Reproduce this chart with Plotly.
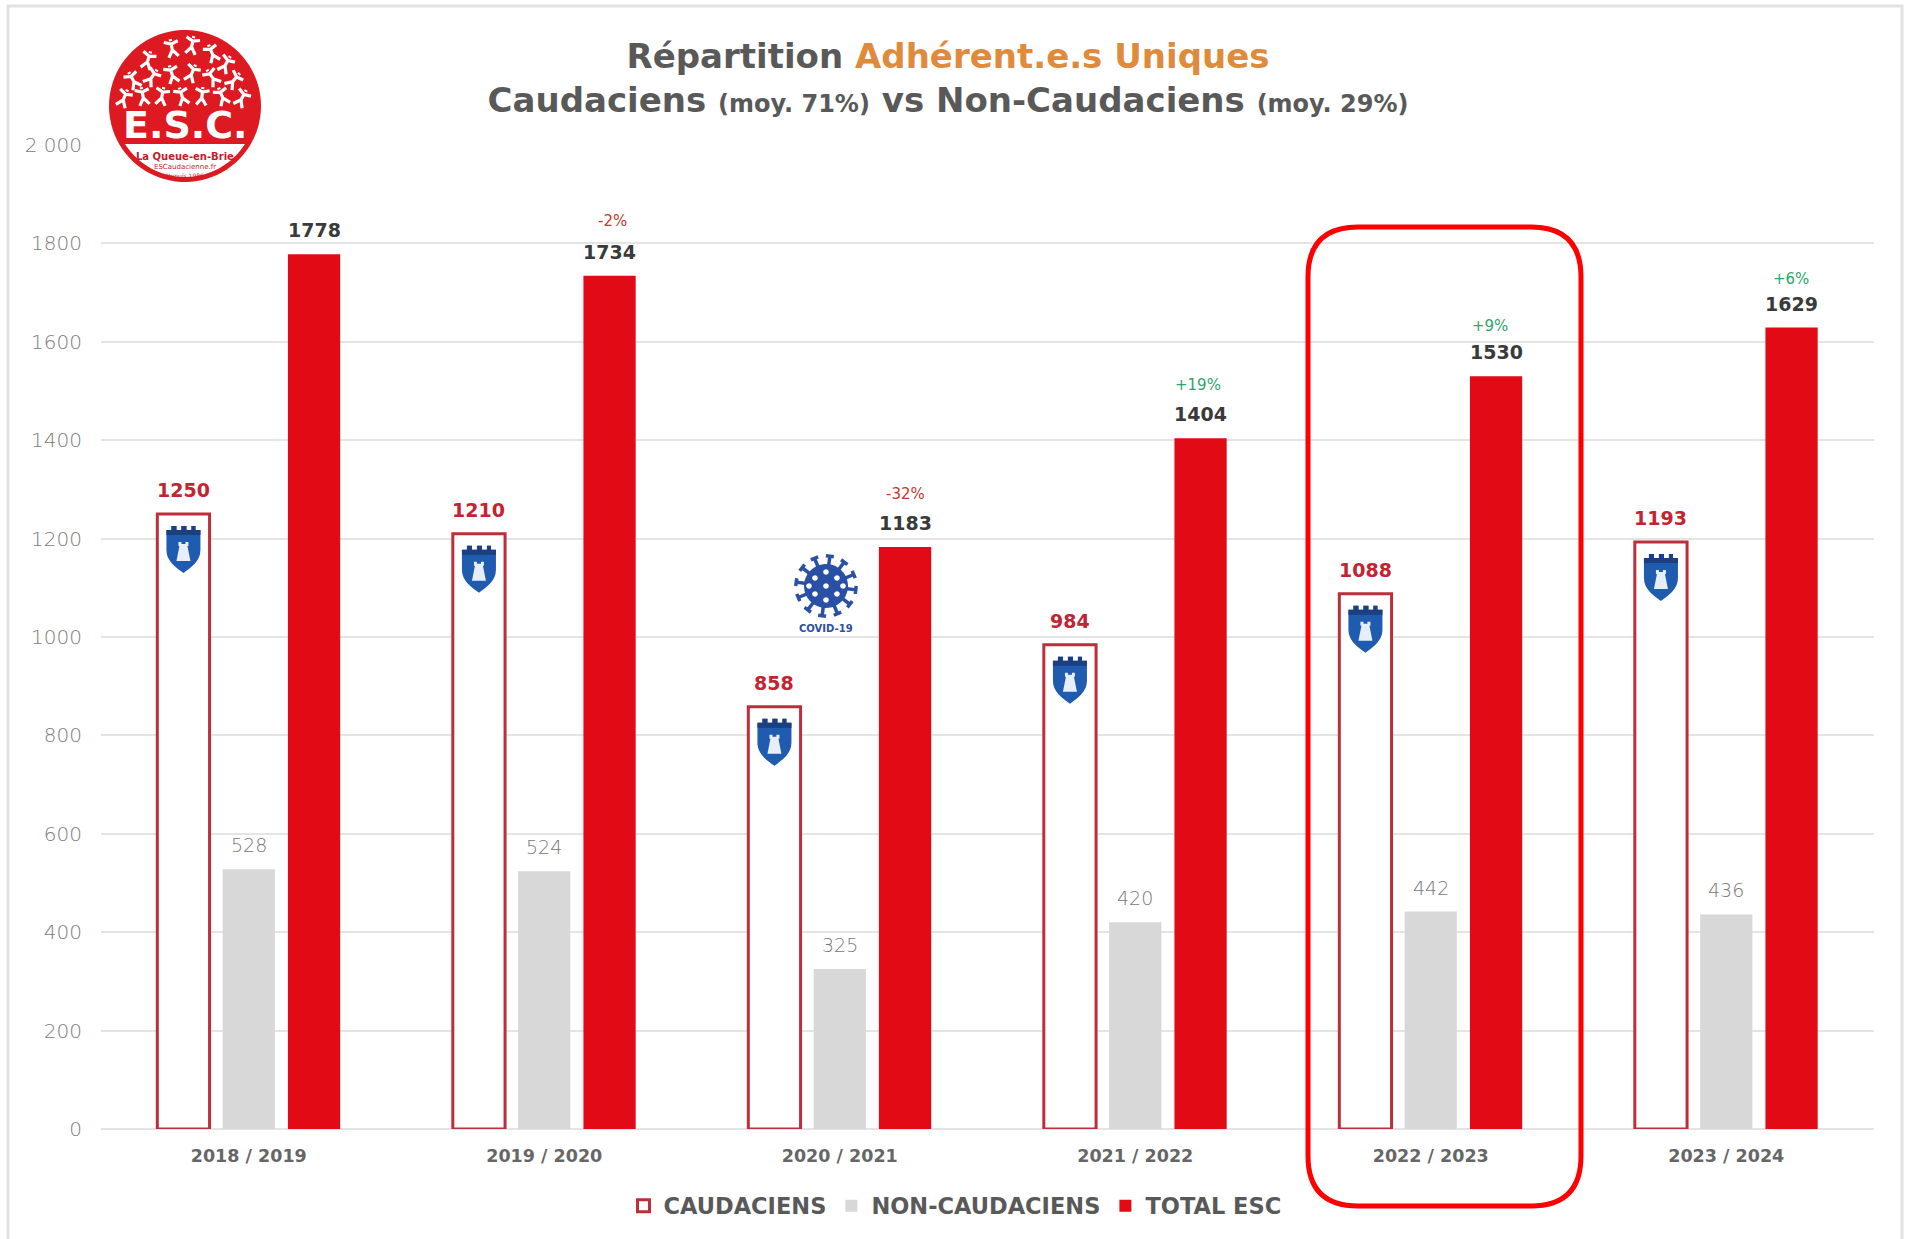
import numpy as np
import plotly.graph_objects as go

W, H = 1906, 1239
L, R, T, B = 101, 1874, 145, 1129

seasons = ["2018 / 2019", "2019 / 2020", "2020 / 2021", "2021 / 2022", "2022 / 2023", "2023 / 2024"]
caudaciens = [1250, 1210, 858, 984, 1088, 1193]
non_caudaciens = [528, 524, 325, 420, 442, 436]
total_esc = [1778, 1734, 1183, 1404, 1530, 1629]
pct_labels = ["", "-2%", "-32%", "+19%", "+9%", "+6%"]
pct_colors = ["#c0392b", "#c0392b", "#c0392b", "#2fa36b", "#2fa36b", "#2fa36b"]
y_ticks = [0, 200, 400, 600, 800, 1000, 1200, 1400, 1600, 1800, 2000]
y_tick_text = ["0", "200", "400", "600", "800", "1000", "1200", "1400", "1600", "1800", "2 000"]

# label placement, in pixels
pct_lift = [0, 55, 53, 53, 50, 49]
pct_nudge = [0, 3, 0, -3, -6, -1]

FONT = "'DejaVu Sans', sans-serif"
RED = "#E20A14"
GREY = "#D8D8D8"
OUTLINE = "#BC2F3A"
BLUE = "#1F5BAF"
TEXT = "#595959"
OFF = 0.221


def px(x):
    return (x - L) / (R - L)


def py(y):
    return (B - y) / (B - T)


def p(x, y):
    return f"{px(x):.5f},{py(y):.5f}"


def poly(points, close=True):
    s = "M" + " L".join(p(a, b) for a, b in points)
    return s + (" Z" if close else "")


fig = go.Figure()
fig.add_bar(name="CAUDACIENS", x=seasons, y=caudaciens,
            marker=dict(color="#FFFFFF", line=dict(color=OUTLINE, width=3)))
fig.add_bar(name="NON-CAUDACIENS", x=seasons, y=non_caudaciens, marker=dict(color=GREY, line_width=0))
fig.add_bar(name="TOTAL ESC", x=seasons, y=total_esc, marker=dict(color=RED, line_width=0))

ann = []
for i in range(len(seasons)):
    ann.append(dict(x=i - OFF, y=caudaciens[i], text=f"<b>{caudaciens[i]}</b>", yshift=24, showarrow=False,
                    font=dict(size=19, color="#C22433", family=FONT)))
    ann.append(dict(x=i, y=non_caudaciens[i], text=str(non_caudaciens[i]), yshift=24, showarrow=False,
                    font=dict(size=19, color="#787878", family=FONT, weight=300)))
    ann.append(dict(x=i + OFF, y=total_esc[i], text=f"<b>{total_esc[i]}</b>", yshift=24, showarrow=False,
                    font=dict(size=19, color="#3A3A3A", family=FONT)))
    if pct_labels[i]:
        ann.append(dict(x=i + OFF, y=total_esc[i], text=pct_labels[i], yshift=pct_lift[i], xshift=pct_nudge[i],
                        showarrow=False, font=dict(size=15, color=pct_colors[i], family=FONT)))

shapes = []
# outer frame
frame = "#E2E2E2"
shapes.append(dict(type="path", xref="paper", yref="paper",
                   path=poly([(8, 1239), (8, 6), (1902, 6), (1902, 1239)], close=False),
                   line=dict(color=frame, width=3)))

# shields, anchored on the Caudaciens bars
shield = "M-17,-9 L-17,-16 L-12,-16 L-12,-12 L-7,-12 L-7,-16 L-2,-16 L-2,-12 L3,-12 L3,-16 L8,-16 L8,-12 L12,-12 L12,-16 L17,-16 L17,-9 L17,-36 C17,-47 8,-53 0,-59 C-8,-53 -17,-47 -17,-36 Z"
band = "M-17,-9 L-17,-16 L-12,-16 L-12,-12 L-7,-12 L-7,-16 L-2,-16 L-2,-12 L3,-12 L3,-16 L8,-16 L8,-12 L12,-12 L12,-16 L17,-16 L17,-9 L17,-21 L-17,-21 Z"
tower = "M-5,-32 L-5,-28 L-2,-28 L-2,-30 L2,-30 L2,-28 L5,-28 L5,-32 L4,-32 L7,-47 L-7,-47 L-4,-32 Z"
for i, v in enumerate(caudaciens):
    base = dict(type="path", xref="x", yref="y", xsizemode="pixel", ysizemode="pixel",
                xanchor=i - OFF, yanchor=v, line_width=0)
    shapes.append({**base, "path": shield, "fillcolor": BLUE})
    shapes.append({**base, "path": band, "fillcolor": "#1B3F80"})
    shapes.append({**base, "path": tower, "fillcolor": "#E6EEF8"})

# highlight round the 2022 / 2023 group
x0, x1, y0, y1, rr = 1308, 1581, 227, 1206, 50
shapes.append(dict(type="path", xref="paper", yref="paper",
                   path=(f"M{p(x0 + rr, y0)} L{p(x1 - rr, y0)} Q{p(x1, y0)} {p(x1, y0 + rr)} "
                         f"L{p(x1, y1 - rr)} Q{p(x1, y1)} {p(x1 - rr, y1)} "
                         f"L{p(x0 + rr, y1)} Q{p(x0, y1)} {p(x0, y1 - rr)} "
                         f"L{p(x0, y0 + rr)} Q{p(x0, y0)} {p(x0 + rr, y0)} Z"),
                   line=dict(color="#FF0000", width=5), fillcolor="rgba(0,0,0,0)"))

# club badge
cx, cy, cr = 185, 106, 76
t = np.linspace(0, 2 * np.pi, 90)
shapes.append(dict(type="path", xref="paper", yref="paper",
                   path=poly(list(zip(cx + cr * np.cos(t), cy + cr * np.sin(t)))),
                   fillcolor="#DD1A22", line_width=0))
a = np.arcsin(38 / 71)
t2 = np.linspace(a, np.pi - a, 40)
shapes.append(dict(type="path", xref="paper", yref="paper",
                   path=poly(list(zip(cx + 71 * np.cos(t2), cy + 71 * np.sin(t2)))),
                   fillcolor="#FFFFFF", line_width=0))
poses = [(148, 60, .3), (172, 48, -.2), (192, 45, .2), (212, 53, -.4), (226, 64, .5),
         (133, 80, -.5), (152, 77, .6), (172, 74, -.3), (192, 73, .4), (212, 77, -.6), (234, 80, .7),
         (124, 98, .4), (143, 96, -.2), (162, 96, .2), (182, 96, -.3), (202, 96, .1), (222, 96, -.4), (242, 98, .5)]
fig_path = []
for fx, fy, ang in poses:
    c, s = np.cos(ang), np.sin(ang)
    rot = lambda dx, dy: (fx + c * dx - s * dy, fy + s * dx + c * dy)
    fig_path.append(poly([rot(0, -9), rot(0, -7)], close=False))
    fig_path.append(poly([rot(-7, -7), rot(0, -4), rot(7, -6)], close=False))
    fig_path.append(poly([rot(0, -5), rot(0, 2), rot(-5, 9)], close=False))
    fig_path.append(poly([rot(0, 2), rot(5, 9)], close=False))
shapes.append(dict(type="path", xref="paper", yref="paper", path=" ".join(fig_path),
                   line=dict(color="#FFFFFF", width=3.2)))

# covid pictogram
vx, vy = 826, 586
spikes = []
for k in range(12):
    th = k * np.pi / 6 + 0.13
    ux, uy = np.cos(th), np.sin(th)
    spikes.append(poly([(vx + 18 * ux, vy + 18 * uy), (vx + 30 * ux, vy + 30 * uy)], close=False))
    spikes.append(poly([(vx + 30 * ux - 4 * uy, vy + 30 * uy + 4 * ux), (vx + 30 * ux + 4 * uy, vy + 30 * uy - 4 * ux)], close=False))
shapes.append(dict(type="path", xref="paper", yref="paper", path=" ".join(spikes), line=dict(color="#2A50A5", width=3.5)))
t3 = np.linspace(0, 2 * np.pi, 40)
shapes.append(dict(type="path", xref="paper", yref="paper",
                   path=poly(list(zip(vx + 22 * np.cos(t3), vy + 22 * np.sin(t3)))), fillcolor="#2A50A5", line_width=0))
for dx, dy in [(0, 0), (-11, -8), (11, -8), (-11, 8), (11, 8), (0, -14), (0, 14), (-17, 0), (17, 0)]:
    t4 = np.linspace(0, 2 * np.pi, 14)
    shapes.append(dict(type="path", xref="paper", yref="paper",
                       path=poly(list(zip(vx + dx + 2.8 * np.cos(t4), vy + dy + 2.8 * np.sin(t4)))),
                       fillcolor="#FFFFFF", line_width=0))


def note(x, y, text, size, color):
    ann.append(dict(xref="paper", yref="paper", x=px(x), y=py(y), text=text, showarrow=False,
                    xanchor="center", yanchor="middle", font=dict(size=size, color=color, family=FONT)))


note(185, 125, "<b>E.S.C.</b>", 38, "#FFFFFF")
note(185, 156.5, "<b>La Queue-en-Brie</b>", 10, "#C4202B")
note(185, 167, "ESCaudacienne.fr", 7, "#C4202B")
note(185, 176, "Depuis 1985", 6, "#C4202B")
note(826, 628, "<b>COVID-19</b>", 10, "#2A50A5")

fig.update_layout(
    width=W, height=H, autosize=False,
    margin=dict(l=L, r=W - R, t=T, b=H - B, autoexpand=False),
    paper_bgcolor="#FFFFFF", plot_bgcolor="#FFFFFF",
    font=dict(family=FONT, color=TEXT),
    barmode="group", bargap=0.337, bargroupgap=0.2,
    title=dict(
        text=("<b>Répartition <span style='color:#E08A3C'>Adhérent.e.s Uniques</span></b><br>"
              "<b>Caudaciens <span style='font-size:24px'>(moy. 71%)</span> vs Non-Caudaciens "
              "<span style='font-size:24px'>(moy. 29%)</span></b>"),
        x=948 / W, xref="container", xanchor="center", y=1 - 68 / H, yanchor="middle",
        font=dict(size=34, color=TEXT, family=FONT)),
    xaxis=dict(type="category", categoryorder="array", categoryarray=seasons,
               range=[-0.5, 5.5], showgrid=False, showline=False, zeroline=False,
               ticks="", ticklabelstandoff=14,
               tickfont=dict(size=17.5, color="#666666", family=FONT, weight=700)),
    yaxis=dict(range=[0, 2000], tickvals=y_ticks, ticktext=y_tick_text, showline=False, ticks="",
               gridcolor="#E4E4E4", gridwidth=2, zeroline=True, zerolinecolor="#E4E4E4", zerolinewidth=2,
               ticklabelstandoff=18, tickfont=dict(size=20, color="#7C7C7C", family=FONT, weight=300)),
    legend=dict(orientation="h", xanchor="center", yanchor="middle", x=px(955), y=py(1206),
                font=dict(size=22.5, color=TEXT, family=FONT, weight=700), itemclick=False, itemdoubleclick=False,
                bgcolor="rgba(0,0,0,0)", traceorder="normal", itemwidth=30),
    annotations=ann, shapes=shapes,
)
fig.write_html("out.html", config={"displayModeBar": False},
               post_script="document.body.style.margin='0';document.body.style.overflow='hidden';")
